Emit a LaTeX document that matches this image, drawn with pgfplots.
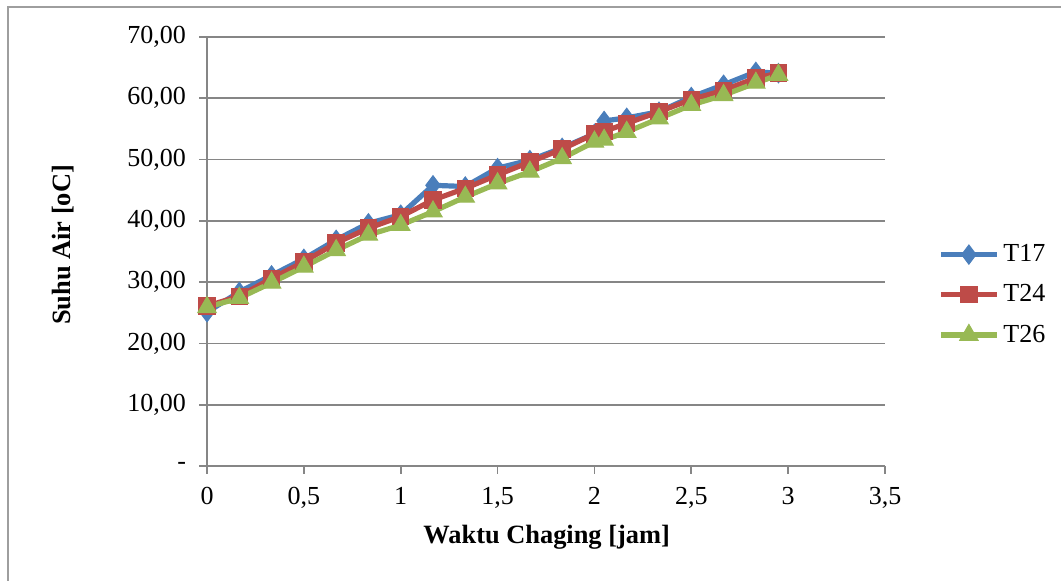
\documentclass[border=0pt]{standalone}
\usepackage{fontspec}
\setmainfont{Liberation Serif}
\usepackage{pgfplots}
\pgfplotsset{compat=1.18}
\definecolor{gridc}{HTML}{868686}
\definecolor{cblue}{HTML}{4A7EBB}
\definecolor{cred}{HTML}{BE4B48}
\definecolor{cgreen}{HTML}{98B954}
\begin{document}
\begin{tikzpicture}
\useasboundingbox (0,0) rectangle (530.5pt,290.5pt);
\draw[color=gridc!80, line width=0.8pt] (4pt,-2pt) -- (4pt,287pt) -- (533pt,287pt);
\begin{axis}[
  at={(103.5pt,57.5pt)}, anchor=south west,
  scale only axis, width=339pt, height=214.5pt,
  xmin=0, xmax=3.5, ymin=0, ymax=70,
  clip=false,
  axis x line=bottom, axis y line=left,
  axis line style={-, color=gridc, line width=0.8pt},
  xtick={0,0.5,1,1.5,2,2.5,3,3.5},
  xticklabels={0,0{,}5,1,1{,}5,2,2{,}5,3,3{,}5},
  ytick={0,10,20,30,40,50,60,70},
  yticklabels={-,10{,}00,20{,}00,30{,}00,40{,}00,50{,}00,60{,}00,70{,}00},
  tick align=outside, major tick length=4pt,
  tick style={color=gridc, line width=0.8pt},
  ymajorgrids, grid style={color=gridc, line width=0.8pt},
  ticklabel style={font=\fontsize{13}{15}\selectfont, text=black},
  yticklabel style={xshift=-3pt},
  xticklabel style={yshift=-3pt},
  xlabel={Waktu Chaging [jam]},
  ylabel={Suhu Air [oC]},
  label style={font=\fontsize{13.2}{16}\selectfont\bfseries},
  xlabel style={at={(axis description cs:0.501,-0.1655)}, anchor=center},
  ylabel style={at={(axis description cs:-0.212,0.515)}, anchor=center, rotate=0},
  legend style={at={(axis description cs:1.078,0.399)}, anchor=west, draw=none, fill=none,
    font=\fontsize{13}{15}\selectfont, row sep=6pt, inner sep=0pt},
  legend cell align=left,
  legend image code/.code={%
    \draw[mark repeat=2,mark phase=2,#1] plot coordinates {(0pt,0pt) (14pt,0pt) (28pt,0pt)};},
]
\addplot[color=cblue, line width=2.6pt, mark=diamond*, mark size=4.8pt, mark options={solid, fill=cblue, line width=0.5pt}] coordinates {
(0,25.1) (0.1667,28.4) (0.3333,31.1) (0.5,33.8) (0.6667,36.9) (0.8333,39.6) (1,41.0) (1.1667,45.8) (1.3333,45.6) (1.5,48.6) (1.6667,49.9) (1.8333,51.9) (2,54.2) (2.05,56.3) (2.1667,56.8) (2.3333,57.8) (2.5,60.2) (2.6667,62.2) (2.8333,64.3) (2.95,64.1)};
\addlegendentry{T17}
\addplot[color=cred, line width=2.6pt, mark=square*, mark size=4.1pt, mark options={solid, fill=cred, line width=0.5pt}] coordinates {
(0,26.1) (0.1667,27.7) (0.3333,30.6) (0.5,33.3) (0.6667,36.4) (0.8333,38.8) (1,40.7) (1.1667,43.4) (1.3333,45.3) (1.5,47.5) (1.6667,49.6) (1.8333,51.7) (2,54.2) (2.05,54.6) (2.1667,55.9) (2.3333,57.8) (2.5,59.8) (2.6667,61.3) (2.8333,63.3) (2.95,64.1)};
\addlegendentry{T24}
\addplot[color=cgreen, line width=2.6pt, mark=triangle*, mark size=5.3pt, mark options={solid, fill=cgreen, line width=0.5pt}] coordinates {
(0,25.9) (0.1667,27.4) (0.3333,29.9) (0.5,32.5) (0.6667,35.2) (0.8333,37.7) (1,39.3) (1.1667,41.5) (1.3333,43.9) (1.5,46.1) (1.6667,48.0) (1.8333,50.2) (2,52.9) (2.05,53.2) (2.1667,54.5) (2.3333,56.7) (2.5,58.9) (2.6667,60.5) (2.8333,62.5) (2.95,63.8)};
\addlegendentry{T26}
\end{axis}
\end{tikzpicture}
\end{document}
